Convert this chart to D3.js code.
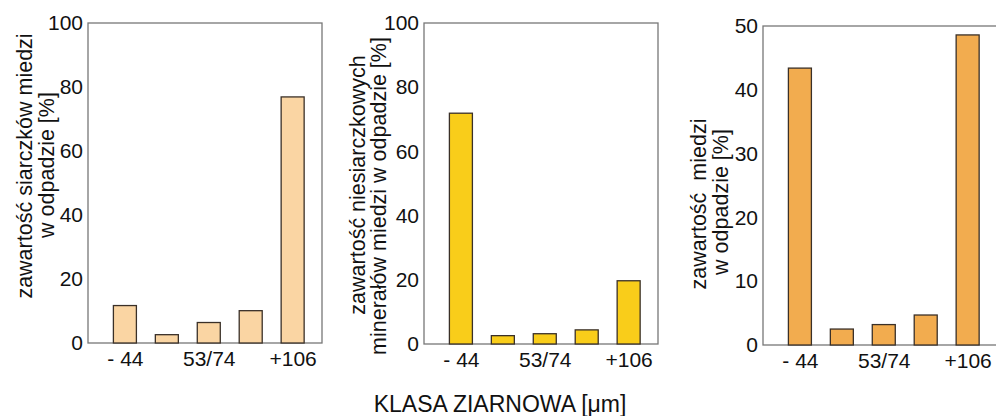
<!DOCTYPE html>
<html>
<head>
<meta charset="utf-8">
<script src="https://cdn.jsdelivr.net/npm/d3@7"></script>
<style>
  body { margin: 0; background: #fff; }
  svg { display: block; }
  text { font-family: "Liberation Sans", Arial, sans-serif; fill: #111; }
</style>
</head>
<body>
<div id="chart"></div>
<script>
//Width and height
var w = 996;
var h = 416;

// grain size classes (only every second one is labelled)
var categories = ["- 44", "44/53", "53/74", "74/106", "+106"];
var labelled = [0, 2, 4];

// copper content in waste, per class [%]
var siarczki = [11.7, 2.6, 6.4, 10.1, 76.9];
var niesiarczkowe = [71.9, 2.6, 3.2, 4.4, 19.7];
var miedz = [43.4, 2.5, 3.2, 4.7, 48.6];

var yTicks1 = [0, 20, 40, 60, 80, 100];
var yTicks3 = [0, 10, 20, 30, 40, 50];

var title1 = ["zawartość siarczków miedzi", "w odpadzie [%]"];
var title2 = ["zawartość niesiarczkowych", "minerałów miedzi w odpadzie [%]"];
var title3 = ["zawartość  miedzi", "w odpadzie [%]"];

var panels = [
    { values: siarczki, ymax: 100, ticks: yTicks1, title: title1, fill: "#FAD5A3",
      left: 88, top: 23, bottom: 343, labX: [32, 54], labY: [166, 165] },
    { values: niesiarczkowe, ymax: 100, ticks: yTicks1, title: title2, fill: "#F9CD1A",
      left: 424, top: 23, bottom: 344, labX: [365, 386], labY: [185, 196] },
    { values: miedz, ymax: 50, ticks: yTicks3, title: title3, fill: "#F2AC4F",
      left: 763, top: 26, bottom: 345, labX: [706, 728], labY: [204, 202] }
];

var frameW = 234;
var barW = 23;
var tickFont = "21px";
var labelFont = "21.5px";

//Create SVG element
var svg = d3.select("#chart")
    .append("svg")
    .attr("width", w)
    .attr("height", h);

panels.forEach(function (p) {
    var xScale = d3.scaleLinear()
        .domain([-0.88, 4.7])
        .range([p.left, p.left + frameW]);

    var yScale = d3.scaleLinear()
        .domain([0, p.ymax])
        .range([p.bottom, p.top]);

    var g = svg.append("g");

    //frame
    g.append("rect")
        .attr("x", p.left)
        .attr("y", p.top)
        .attr("width", frameW)
        .attr("height", p.bottom - p.top)
        .attr("fill", "none")
        .attr("stroke", "#777")
        .attr("stroke-width", 1.3);

    //bars
    g.selectAll("rect.bar")
        .data(p.values)
        .enter()
        .append("rect")
        .attr("class", "bar")
        .attr("x", function (d, i) { return xScale(i) - barW / 2; })
        .attr("y", function (d) { return yScale(d); })
        .attr("width", barW)
        .attr("height", function (d) { return yScale(0) - yScale(d); })
        .attr("fill", p.fill)
        .attr("stroke", "#3a3028")
        .attr("stroke-width", 1.3);

    //Y axis
    var yAxis = d3.axisLeft(yScale)
        .tickValues(p.ticks)
        .tickSize(0)
        .tickPadding(5);

    var ya = g.append("g")
        .attr("transform", "translate(" + p.left + ",0)")
        .call(yAxis);
    ya.select(".domain").remove();
    ya.selectAll("text")
        .attr("font-size", tickFont)
        .attr("font-family", null)
        .attr("fill", "#111");

    //X axis
    var xAxis = d3.axisBottom(xScale)
        .tickValues(labelled)
        .tickFormat(function (i) { return categories[i]; })
        .tickSize(0)
        .tickPadding(8);

    var xa = g.append("g")
        .attr("transform", "translate(0," + p.bottom + ")")
        .call(xAxis);
    xa.select(".domain").remove();
    xa.selectAll("text")
        .attr("font-size", tickFont)
        .attr("font-family", null)
        .attr("fill", "#111");

    //Y label (two lines)
    p.title.forEach(function (line, k) {
        g.append("text")
            .attr("transform", "translate(" + p.labX[k] + "," + p.labY[k] + ") rotate(-90)")
            .attr("text-anchor", "middle")
            .attr("font-size", labelFont)
            .style("white-space", "pre")
            .text(line);
    });
});

svg.append("text")
    .attr("x", 500)
    .attr("y", 412)
    .attr("text-anchor", "middle")
    .attr("font-size", "23px")
    .attr("fill", "#222")
    .text("KLASA ZIARNOWA [μm]");
</script>
</body>
</html>
